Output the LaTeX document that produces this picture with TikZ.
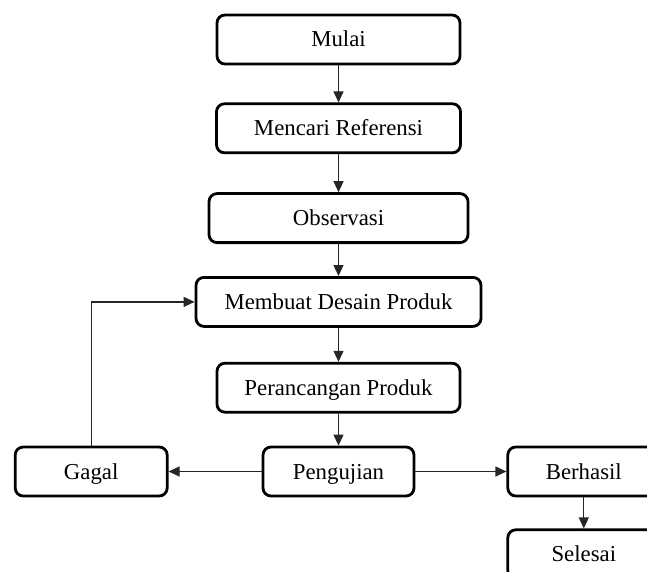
\documentclass[tikz,border=0pt]{standalone}
\usepackage{fontspec}
\setmainfont{Liberation Serif}
\usepackage{tikz}
\usetikzlibrary{positioning,arrows.meta}
\tikzset{
  stepbox/.style={rectangle, rounded corners=4pt, draw=black, line width=1.4pt, fill=white,
                  align=center, inner sep=2pt, minimum height=24.5pt,
                  text height=9pt, text depth=1.5pt,
                  font=\fontsize{11.4}{13}\selectfont},
  arr/.style    ={-{Triangle[length=5.5pt,width=5pt]}, line width=0.6pt, draw=black!85},
}

\begin{document}
\begin{tikzpicture}[x=0.5pt, y=-0.5pt, node distance=18.5pt and 46pt]
  \clip (0,0) rectangle (647,572);
  \node[stepbox, minimum width=121.5pt] (mulai) at (338.5,39.5) {Mulai};
  \node[stepbox, minimum width=122pt, below=of mulai] (referensi) {Mencari Referensi};
  \node[stepbox, minimum width=129.5pt, below=19pt of referensi] (observasi) {Observasi};
  \node[stepbox, minimum width=142.5pt, below=16pt of observasi] (desain) {Membuat Desain Produk};
  \node[stepbox, minimum width=121.5pt, below=17pt of desain] (rancang) {Perancangan Produk};
  \node[stepbox, minimum width=75.5pt, below=16pt of rancang] (uji) {Pengujian};
  \node[stepbox, minimum width=76pt, left=46.5pt of uji] (gagal) {Gagal};
  \node[stepbox, minimum width=76pt, right=45.5pt of uji] (berhasil) {Berhasil};
  \node[stepbox, minimum width=76pt, below=15.5pt of berhasil] (selesai) {Selesai};
  \draw[arr] (mulai) -- (referensi);
  \draw[arr] (referensi) -- (observasi);
  \draw[arr] (observasi) -- (desain);
  \draw[arr] (desain) -- (rancang);
  \draw[arr] (rancang) -- (uji);
  \draw[arr] (uji) -- (gagal);
  \draw[arr] (uji) -- (berhasil);
  \draw[arr] (berhasil) -- (selesai);
  \draw[arr] (gagal.north) |- (desain.west);
\end{tikzpicture}
\end{document}
